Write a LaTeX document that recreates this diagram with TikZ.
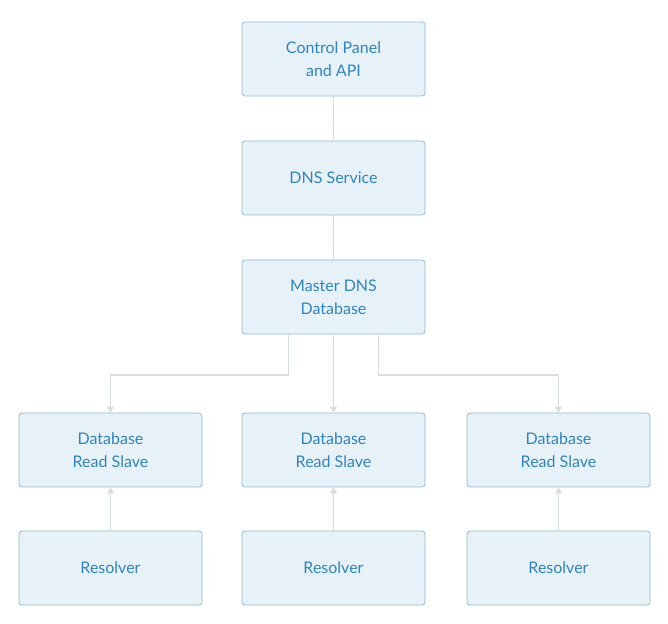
\documentclass[tikz,border=0pt]{standalone}
\usepackage{fontspec}
\setmainfont{Lato}
\usetikzlibrary{arrows.meta}
\definecolor{boxfill}{HTML}{E7F2F8}
\definecolor{boxline}{HTML}{8DBBD3}
\definecolor{boxtext}{HTML}{2F84BE}
\definecolor{conn}{HTML}{D8DDE1}
\begin{document}
\begin{tikzpicture}[x=1pt,y=-1pt,
 box/.style={draw=boxline,fill=boxfill,rounded corners=3pt,minimum width=183pt,minimum height=74pt,
   text=boxtext,font=\fontsize{16}{23}\selectfont,align=center,line width=0.8pt},
 ln/.style={draw=conn,line width=1.5pt},
 arr/.style={ln,-{Triangle[width=7pt,length=6pt]}}]
\useasboundingbox (0,0) rectangle (668,623);
\node[box] (cp) at (333.5,59) {Control Panel\\ and API};
\node[box] (dns) at (333.5,178) {DNS Service};
\node[box] (m) at (333.5,297) {Master DNS\\Database};
\node[box] (s1) at (110.5,450) {Database\\Read Slave};
\node[box] (s2) at (333.5,450) {Database\\Read Slave};
\node[box] (s3) at (558.5,450) {Database\\Read Slave};
\node[box] (r1) at (110.5,568) {Resolver};
\node[box] (r2) at (333.5,568) {Resolver};
\node[box] (r3) at (558.5,568) {Resolver};
\draw[ln] (cp) -- (dns);
\draw[ln] (dns) -- (m);
\draw[arr] (m.south) ++(-45,0) |- (110.5,375) -- (s1.north);
\draw[arr] (m) -- (s2);
\draw[arr] (m.south) ++(45,0) |- (558.5,375) -- (s3.north);
\draw[arr] (r1) -- (s1);
\draw[arr] (r2) -- (s2);
\draw[arr] (r3) -- (s3);
\end{tikzpicture}
\end{document}
